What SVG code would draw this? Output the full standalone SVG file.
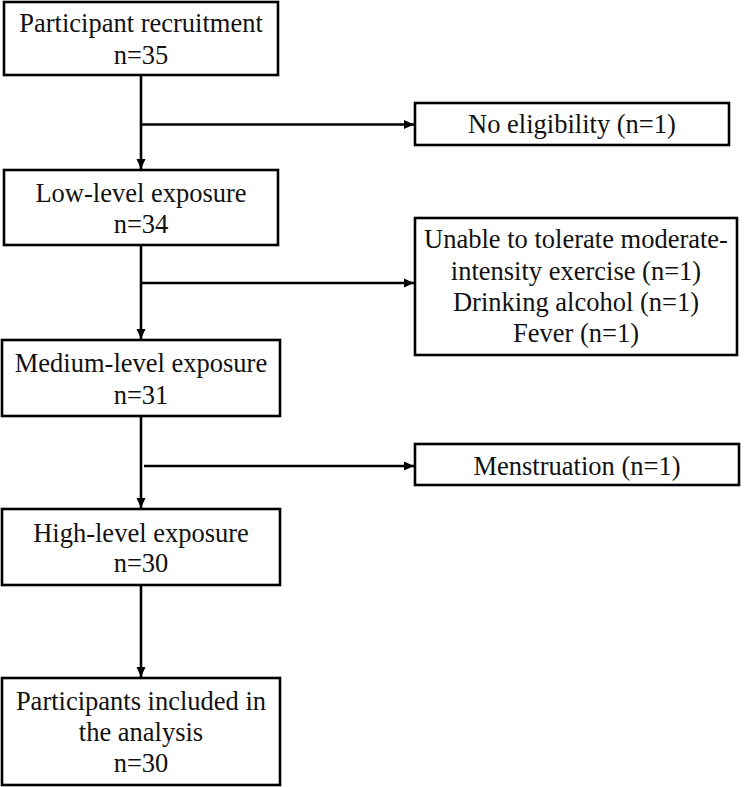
<svg xmlns="http://www.w3.org/2000/svg" width="744" height="787" viewBox="0 0 744 787">
<style>
.box{fill:#fff;stroke:#000;stroke-width:2.6}
.t{font-family:"Liberation Serif","Times New Roman",serif;font-size:26.5px;fill:#111;text-anchor:middle}
.ln{stroke:#000;stroke-width:2.6;fill:none}
</style>
<defs>
<marker id="ah" markerWidth="10" markerHeight="10" refX="10" refY="5" orient="auto" markerUnits="userSpaceOnUse">
<path d="M0,0.5 L10,5 L0,9.5 Z" fill="#000"/>
</marker>
</defs>
<rect width="744" height="787" fill="#fff"/>
<g id="connectors">
<line class="ln" x1="141" y1="75" x2="141" y2="169" marker-end="url(#ah)"/>
<line class="ln" x1="141" y1="124.5" x2="414" y2="124.5" marker-end="url(#ah)"/>
<line class="ln" x1="141" y1="245" x2="141" y2="339" marker-end="url(#ah)"/>
<line class="ln" x1="141" y1="283" x2="414" y2="283" marker-end="url(#ah)"/>
<line class="ln" x1="141" y1="416" x2="141" y2="508" marker-end="url(#ah)"/>
<line class="ln" x1="144" y1="466" x2="414" y2="466" marker-end="url(#ah)"/>
<line class="ln" x1="141" y1="585" x2="141" y2="677" marker-end="url(#ah)"/>
</g>
<g id="n1">
<rect class="box" x="4" y="2" width="274" height="73"/>
<text class="t" x="141" y="32">Participant recruitment</text>
<text class="t" x="141" y="64">n=35</text>
</g>
<g id="n2">
<rect class="box" x="415" y="103" width="314" height="42"/>
<text class="t" x="572" y="133">No eligibility (n=1)</text>
</g>
<g id="n3">
<rect class="box" x="4" y="170" width="274" height="75"/>
<text class="t" x="141" y="202">Low-level exposure</text>
<text class="t" x="141" y="233">n=34</text>
</g>
<g id="n4">
<rect class="box" x="415" y="218" width="322" height="137"/>
<text class="t" x="576" y="248">Unable to tolerate moderate-</text>
<text class="t" x="576" y="280">intensity exercise (n=1)</text>
<text class="t" x="576" y="311">Drinking alcohol (n=1)</text>
<text class="t" x="576" y="342">Fever (n=1)</text>
</g>
<g id="n5">
<rect class="box" x="2" y="340" width="278" height="76"/>
<text class="t" x="141" y="372">Medium-level exposure</text>
<text class="t" x="141" y="404">n=31</text>
</g>
<g id="n6">
<rect class="box" x="415" y="444" width="324" height="41"/>
<text class="t" x="577" y="475">Menstruation (n=1)</text>
</g>
<g id="n7">
<rect class="box" x="2" y="509" width="278" height="76"/>
<text class="t" x="141" y="542">High-level exposure</text>
<text class="t" x="141" y="572">n=30</text>
</g>
<g id="n8">
<rect class="box" x="2" y="678" width="278" height="107"/>
<text class="t" x="141" y="710">Participants included in</text>
<text class="t" x="141" y="741">the analysis</text>
<text class="t" x="141" y="772">n=30</text>
</g>
</svg>
